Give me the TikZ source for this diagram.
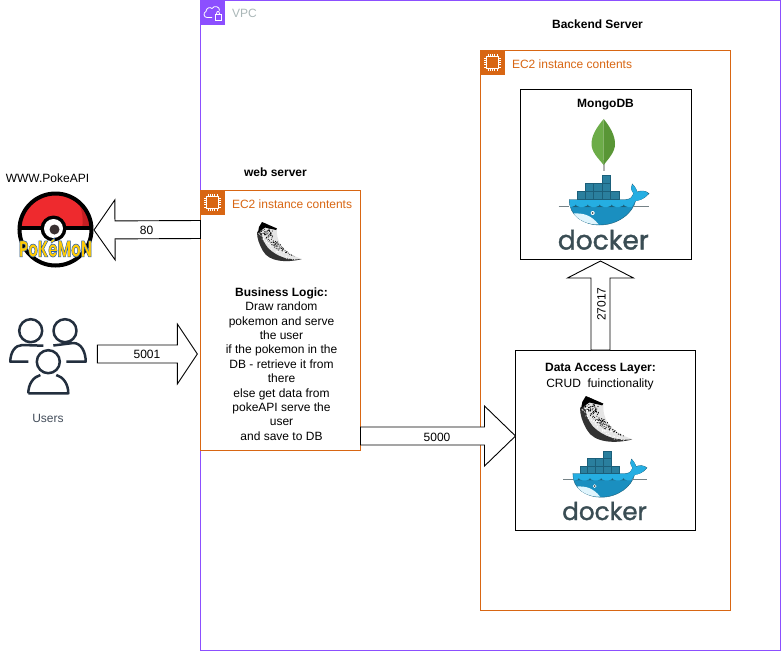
\documentclass[tikz,border=0pt]{standalone}
\usepackage{fontspec}
\usepackage{graphicx}
\setmainfont{Liberation Sans}
\newfontfamily\dockerfont{Poppins}
\newfontfamily\pokefont{Poppins}
\usetikzlibrary{calc}
\definecolor{vpcpurple}{HTML}{8C4FFF}
\definecolor{ecorange}{HTML}{D86613}
\definecolor{vpcgrey}{HTML}{AAB7B8}
\definecolor{usersink}{HTML}{232F3E}
\definecolor{dockerink}{HTML}{3A4D54}
\definecolor{boxteal}{HTML}{2A7F9E}
\definecolor{boxline}{HTML}{1B5F7A}
\definecolor{whaletop}{HTML}{25AEE2}
\definecolor{whalelow}{HTML}{1A8FC0}
\definecolor{pokered}{HTML}{EE2A2E}
\definecolor{pokedark}{HTML}{C41E22}
\definecolor{pokeyellow}{HTML}{FFCB05}
\definecolor{leaflight}{RGB}{108,172,72}
\definecolor{leafdark}{RGB}{89,150,54}
\tikzset{
  x=1pt,y=-1pt,
  every node/.style={font=\fontsize{12}{14.4}\selectfont,inner sep=0pt,outer sep=0pt},
  bluebox/.style={draw=black,line width=1pt,fill=white},
  ecbox/.style={draw=ecorange,line width=1pt},
  vpcbox/.style={draw=vpcpurple,line width=1pt},
  blockarrowline/.style={draw=black,line width=.9pt,fill=white,line join=miter},
  plainlabel/.style={text=black},
  pics/dockerlogo/.style={code={
    \path[fill=whalelow,draw=boxline,line width=.4pt]
      (-28.4,0) -- (28,0) .. controls (33,0) and (35,-3) .. (36,-6)
      .. controls (33,-10) and (33,-13) .. (34.6,-15.5)
      .. controls (38,-12) and (39,-9) .. (39.5,-7.5)
      .. controls (43,-9) and (48,-9) .. (51.3,-6)
      .. controls (47,-1) and (42,1) .. (38,1)
      .. controls (35,14) and (20,25.5) .. (2,25.5)
      .. controls (-14,25.5) and (-29,16) .. (-28.4,0) -- cycle;
    \path[fill=whaletop]
      (-28,.5) -- (28,.5) .. controls (33,.5) and (35,-3) .. (36,-6)
      .. controls (33,-10) and (33,-13) .. (34.6,-15) .. controls (38,-12) and (39,-9) .. (39.5,-7)
      .. controls (43,-9) and (48,-9) .. (50.5,-6) .. controls (47,-1) and (42,1) .. (37.5,1.5)
      .. controls (36,4) and (35,6) .. (34,7.5) -- (-27.5,7.5) -- cycle;
    \path[fill=white!88!cyan]
      (-24,14) .. controls (-15,13.5) and (-7,15) .. (1,25)
      .. controls (-10,25) and (-19,21) .. (-24,14) -- cycle;
    \draw[line width=.7pt,draw=dockerink!70] (-39,6.5) -- (-28.5,6.5);
    \draw[line width=.7pt,draw=dockerink!70] (35,6.5) -- (51,6.5);
    \foreach \wx in {-22,-10,2,14,26}{\path[fill=boxline] (\wx-4,7.5) .. controls (\wx-1,7) and (\wx,6) .. (\wx,5) .. controls (\wx,6) and (\wx+1,7) .. (\wx+4,7.5) -- cycle;}
    \path[fill=white] (-5,13.5) circle[radius=2];
    \path[fill=dockerink] (-5,13.5) circle[radius=1];
    \foreach \cx in {-21,-12.6,-4.2,4.2,12.6}{\path[fill=boxteal,draw=boxline,line width=.4pt] (\cx,-8) rectangle ++(8.4,8);}
    \foreach \cx in {-13,-4.4,4.2}{\path[fill=boxteal,draw=boxline,line width=.4pt] (\cx,-16) rectangle ++(8.6,8);}
    \path[fill=boxteal,draw=boxline,line width=.4pt] (4,-24.5) rectangle ++(8.8,8.5);
    \node[transform shape,text=dockerink,font=\dockerfont\fontsize{26.5}{27}\selectfont,anchor=base] (-word) at (5.6,50)
      {\special{pdf:code 2 Tr .35 w 0.227 0.302 0.329 RG}docker\special{pdf:code 0 Tr 0 G}};
  }},
  pics/flasklogo/.style={code={
    \begin{scope}
      \clip (5,0) -- (20,7) .. controls (19,18) and (24,30) .. (45,37)
      .. controls (30,41) and (12,40) .. (6,29) .. controls (2,22) and (0,16) .. (0,10) -- cycle;
      \path[fill=black!10] (0,0) rectangle (46,42);
      \path[fill=black!80] (0,10) .. controls (0,16) and (2,22) .. (6,29)
        .. controls (12,40) and (30,41) .. (45,37) .. controls (32,38.5) and (20,35) .. (11,26)
        .. controls (7,21) and (4,15) .. (5,8) -- cycle;
      \pgfmathsetseed{11}
      \foreach \i in {1,...,170}{
        \pgfmathsetmacro{\tv}{rnd}
        \pgfmathsetmacro{\ov}{rnd}
        \pgfmathsetmacro{\px}{3+14*\tv+28*\tv*\tv*\tv+11*\ov*(1-\tv)}
        \pgfmathsetmacro{\py}{5+40*\tv-9*\tv*\tv-\ov*8*(1-.6*\tv)}
        \path[fill=black] (\px,\py) circle[radius=.5];
      }
      \pgfmathsetseed{5}
      \foreach \i in {1,...,70}{
        \pgfmathsetmacro{\tv}{rnd}
        \pgfmathsetmacro{\ov}{rnd}
        \pgfmathsetmacro{\px}{1+10*\tv+24*\tv*\tv+4*\ov}
        \pgfmathsetmacro{\py}{10+30*\tv-3*\ov}
        \path[fill=white] (\px,\py) circle[radius=.5];
      }
    \end{scope}
    \path[fill=black] (5,0) -- (20,6.5) -- (19,8) -- (8,5.5) -- (1,10.5) -- (2,5) -- cycle;
  }},
  pics/chipicon/.style={code={
    \path[fill=ecorange] (0,0) rectangle (25,25);
    \draw[white,line width=.8pt] (6.5,6.5) rectangle (18.5,18.5);
    \foreach \p in {8,10.5,12.5,14.5,17}{
      \draw[white,line width=.6pt] (\p,4) -- (\p,6.5);
      \draw[white,line width=.6pt] (\p,18.5) -- (\p,21);
      \draw[white,line width=.6pt] (4,\p) -- (6.5,\p);
      \draw[white,line width=.6pt] (18.5,\p) -- (21,\p);
    }
  }},
  pics/cloudicon/.style={code={
    \path[fill=vpcpurple] (0,0) rectangle (25,25);
    \draw[white,line width=.8pt,line join=round] (12,17.5) -- (7,17.5)
      .. controls (3.5,17.5) and (3,12.5) .. (6,11.5)
      .. controls (6,8) and (10,6.5) .. (12,8.5)
      .. controls (14,5) and (20,6.5) .. (19.5,10.5);
    \draw[white,line width=.8pt] (15,14) rectangle (21,20);
    \draw[white,line width=.8pt] (16.5,14) .. controls (16.5,10.5) and (19.5,10.5) .. (19.5,14);
  }},
  pics/usersicon/.style={code={
    \draw[usersink,line width=2.5pt,line cap=butt,line join=round]
      (-17.6,-29.3) circle[radius=11.5]
      (16.7,-29.3) circle[radius=11.5]
      (0,1.7) circle[radius=11.5]
      (-20,1.7) -- (-38,1.7) .. controls (-38,-8) and (-33,-15) .. (-26,-15) -- (-5,-14.3)
      (18,1.7) -- (37.4,1.7) .. controls (37.4,-8) and (33,-17) .. (25,-17) -- (5,-14.5)
      (-20,33.3) -- (20,33.3) .. controls (20,24) and (15,17) .. (8,15)
      (-8,15) .. controls (-15,17) and (-20,24) .. (-20,33.3);
  }},
}
\newcommand{\blockarrow}[6]{% start, end, head length, half head, half shaft, prefix
  \coordinate (#6hb) at ($(#2)!#3pt!(#1)$);
  \draw[blockarrowline]
    ($(#1)!#5pt!90:(#2)$) -- ($(#6hb)!#5pt!90:(#2)$) -- ($(#6hb)!#4pt!90:(#2)$) -- (#2)
    -- ($(#6hb)!#4pt!-90:(#2)$) -- ($(#6hb)!#5pt!-90:(#2)$) -- ($(#1)!#5pt!-90:(#2)$) -- cycle;
}
\begin{document}
\begin{tikzpicture}
\useasboundingbox (0,0) rectangle (781,651);
\path[fill=white] (0,0) rectangle (781,651);

% VPC
\node[vpcbox,minimum width=579.5,minimum height=650,anchor=north west] (vpc) at (200.5,.5) {};
\pic at (200,0) {cloudicon};
\node[anchor=west,text=vpcgrey] (vpclabel) at (232,13.7) {VPC};

% titles
\node[font=\fontsize{12}{14.4}\selectfont\bfseries] (backendtitle) at (597.5,24) {Backend Server};
\node[font=\fontsize{12}{14.4}\selectfont\bfseries] (webtitle) at (275.5,172.2) {web server};
\node (pokelabel) at (47.5,178.7) {WWW.PokeAPI};

% EC2 boxes
\node[ecbox,minimum width=250,minimum height=560,anchor=north west] (backend) at (480.5,50.5) {};
\pic at (480,50) {chipicon};
\node[anchor=west,text=ecorange] (backendlabel) at (512,64.2) {EC2 instance contents};

\node[ecbox,minimum width=160,minimum height=260,anchor=north west] (web) at (200.5,190.5) {};
\pic at (200,190) {chipicon};
\node[anchor=west,text=ecorange] (weblabel) at (232,204.2) {EC2 instance contents};

% inner boxes
\node[bluebox,minimum width=170.5,minimum height=170,anchor=north west] (mongo) at (520.5,89.5) {};
\node[bluebox,minimum width=180,minimum height=180,anchor=north west] (dal) at (515.5,350.5) {};

% pokeball
\node[circle,minimum size=76] (ball) at (55.5,229.5) {};
\begin{scope}
  \clip (ball.center) circle[radius=36];
  \path[fill=white] (ball.center) circle[radius=36];
  \path[fill=pokered] (15,193) rectangle (96,228);
  \path[fill=pokedark] (72,193) .. controls (82,205) and (84,217) .. (82,228) -- (96,228) -- (96,193) -- cycle;
\end{scope}
\draw[black,line width=4pt] (ball.center) circle[radius=36];
\draw[black,line width=4pt] (20,227.5) -- (91,227.5);
\path[fill=black] (53.5,228.5) circle[radius=13];
\path[fill=white] (53.5,228.5) circle[radius=9.5];
\path[fill=black!90!magenta] (54.5,229.5) circle[radius=5];
\node[font=\pokefont\bfseries\fontsize{14}{15}\selectfont,text=pokeyellow] (poketext) at (55.5,247.5)
  {\resizebox{73pt}{19pt}{\special{pdf:code 2 Tr .35 w 0.14 0.36 0.68 RG}PoKéMoN\special{pdf:code 0 Tr 0 G}}};

% users
\node[minimum width=78,minimum height=78] (users) at (48.3,360) {};
\pic at (48.3,360) {usersicon};
\node[text=usersink!85] (userslabel) at (48,418) {Users};

% arrows
\coordinate (a80s) at (web.west |- ball.east);
\coordinate (a80e) at ($(ball.east)+(.5,.5)$);
\blockarrow{a80s}{a80e}{21}{30}{9}{p}
\node[plainlabel] (l80) at (146.5,230.5) {80};

\coordinate (a5001s) at ($(users.east)+(10,-6)$);
\coordinate (a5001e) at ($(a5001s)+(100,0)$);
\blockarrow{a5001s}{a5001e}{20}{30}{9}{q}
\node[plainlabel] (l5001) at (147,354.5) {5001};

\coordinate (a5000s) at ($(web.south east)+(0,-14.5)$);
\coordinate (a5000e) at ($(dal.west)+(0,-4.5)$);
\blockarrow{a5000s}{a5000e}{31}{30}{9}{r}
\node[plainlabel] (l5000) at (437,437) {5000};

\coordinate (a27s) at ($(dal.north)+(-5,-.5)$);
\coordinate (a27e) at ($(a27s)+(0,-89)$);
\blockarrow{a27s}{a27e}{17}{33}{9.5}{s}
\node[plainlabel,rotate=90] (l27017) at (601.5,304) {27017};

% node texts
\node[align=center,font=\fontsize{12}{14.4}\selectfont] (businesstext) at (281.5,364) {%
  \textbf{Business Logic:}\\ Draw random\\ pokemon and serve\\ the user\\
  if the pokemon in the\\ DB - retrieve it from\\ there\\ else get data from\\
  pokeAPI serve the\\ user\\ and save to DB};
\node[font=\fontsize{12}{14.4}\selectfont\bfseries] (mongotitle) at (605.5,105) {MongoDB};
\node[font=\fontsize{12}{14.4}\selectfont\bfseries] (daltitle) at (600.5,369) {Data Access Layer:};
\node (dalsub) at (600,384) {CRUD\ \ fuinctionality};

% mongo leaf
\path[fill=black!30] (603.2,160) rectangle (604.8,171);
\path[fill=leaflight] (603.7,119) .. controls (596,128) and (591.5,136) .. (591.5,144)
  .. controls (591.5,152) and (598,158) .. (603.7,165) -- cycle;
\path[fill=leafdark] (603.7,119) .. controls (611,128) and (615,136) .. (615,144)
  .. controls (615,152) and (609,158) .. (603.7,165) -- cycle;

% logos
\pic (dockerone) at (597.7,199.5) {dockerlogo};
\pic[scale=.93] (dockertwo) at (599.3,473.5) {dockerlogo};
\pic at (257,222) {flasklogo};
\pic[scale=1.17] at (580,396) {flasklogo};
\end{tikzpicture}
\end{document}
